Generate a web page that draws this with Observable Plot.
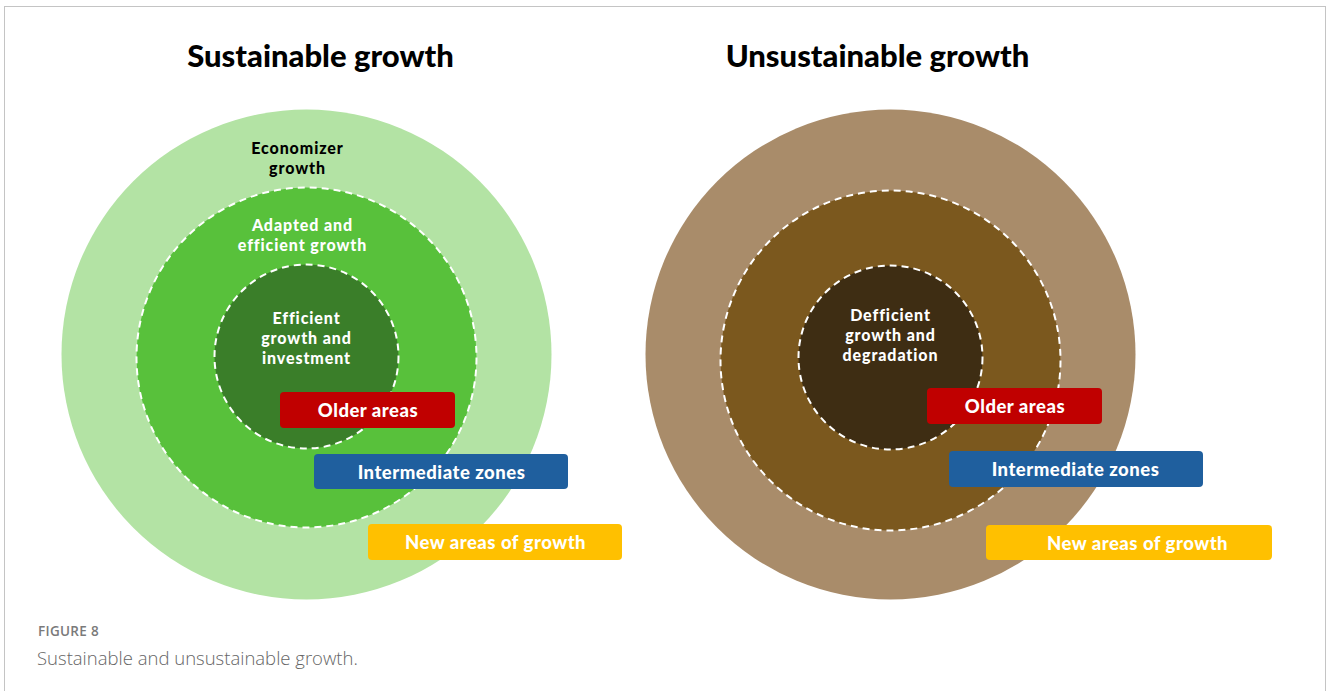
<!DOCTYPE html>
<html><head><meta charset="utf-8">
<script src="https://cdn.jsdelivr.net/npm/d3@7"></script>
<script src="https://cdn.jsdelivr.net/npm/@observablehq/plot@0.6"></script>
<style>
body{margin:0;background:#fff;}
#frame{position:absolute;left:4px;top:6px;width:1320px;height:700px;border:1px solid #c4c4c4;border-bottom:none;}
#chart{position:absolute;left:0;top:0;}
.cap1{position:absolute;left:38px;top:622px;font:600 13.5px "Open Sans";color:#7a7a7a;letter-spacing:0.3px;}
.cap2{position:absolute;left:37px;top:645px;font:300 18.5px "Open Sans";color:#666;}
</style></head><body>
<div id="frame"></div><div id="chart"></div>
<div class="cap1">FIGURE 8</div><div class="cap2">Sustainable and unsustainable growth.</div>
<script>
// ---- data ----
const panels = ["Sustainable growth", "Unsustainable growth"];
const ringLevels = ["outer", "middle", "inner"];
const sustainableRingLabels = ["Economizer\ngrowth", "Adapted and\nefficient growth", "Efficient\ngrowth and\ninvestment"];
const unsustainableRingLabels = ["", "", "Defficient\ngrowth and\ndegradation"];
const areaTypes = ["Older areas", "Intermediate zones", "New areas of growth"];

// ---- layout (diagram geometry) ----
const W = 1328, H = 615;
const titleX = [320, 877], titleY = 57;
const ringCenterX = [[306, 306, 306], [890, 890, 890]];
const ringCenterY = [[354, 357, 356], [354, 360, 357]];
const ringRadius = [245, 170, 92];
const labelX = [[297, 302, 306], [890, 890, 890]];
const labelY = [[157, 234, 337], [157, 234, 334]];
const boxX1 = [[280, 314, 368], [927, 949, 986]];
const boxX2 = [[455, 568, 622], [1102, 1203, 1272]];
const boxY1 = [[392, 454, 524], [388, 451, 525]];
const boxY2 = [[428, 489, 560], [424, 487, 560]];
const boxTextShift = [[0, 0, 0], [0, -1, 8]];

// ---- styles ----
const ringFill = {
  "Sustainable growth": ["#b3e3a4", "#58c13b", "#3a7e29"],
  "Unsustainable growth": ["#a98c6a", "#7b581e", "#3e2d13"]
};
const labelColor = ["#000", "#fff", "#fff"];
const areaFill = ["#c00000", "#1f5f9e", "#ffc000"];

const rings = [], labels = [], boxes = [], titles = [];
panels.forEach((p, pi) => {
  titles.push({text: p, x: titleX[pi], y: titleY});
  ringLevels.forEach((lv, li) => {
    rings.push({panel: p, level: lv, x: ringCenterX[pi][li], y: ringCenterY[pi][li], r: ringRadius[li],
      fill: ringFill[p][li], dashed: li > 0});
    const t = (pi === 0 ? sustainableRingLabels : unsustainableRingLabels)[li];
    if (t) labels.push({text: t, x: labelX[pi][li], y: labelY[pi][li], color: labelColor[li]});
  });
  areaTypes.forEach((a, ai) => {
    boxes.push({text: a, x1: boxX1[pi][ai], x2: boxX2[pi][ai], y1: boxY1[pi][ai], y2: boxY2[pi][ai],
      tx: (boxX1[pi][ai] + boxX2[pi][ai]) / 2 + boxTextShift[pi][ai], ty: (boxY1[pi][ai] + boxY2[pi][ai]) / 2 + 1,
      fill: areaFill[ai]});
  });
});

const font = "Lato, 'Open Sans', sans-serif";
const chart = Plot.plot({
  width: W, height: H,
  margin: 0,
  x: {type: "linear", domain: [0, W], range: [0, W], axis: null},
  y: {type: "linear", domain: [0, H], range: [0, H], axis: null},
  r: {type: "identity"},
  style: {background: "transparent", fontFamily: font},
  marks: [
    Plot.dot(rings.filter(d => !d.dashed), {x: "x", y: "y", r: "r", fill: "fill", stroke: null}),
    Plot.dot(rings.filter(d => d.dashed), {x: "x", y: "y", r: "r", fill: "fill", stroke: "#fff",
      strokeWidth: 2, strokeDasharray: "7,5"}),
    Plot.text(titles, {x: "x", y: "y", text: "text", fontSize: 31, fontWeight: 900, fill: "#000", fontFamily: font}),
    Plot.text(labels, {x: "x", y: "y", text: "text", fontSize: 16, fontWeight: 900, fill: "color",
      lineHeight: 1.25, fontFamily: font}),
    Plot.rect(boxes, {x1: "x1", x2: "x2", y1: "y1", y2: "y2", fill: "fill", rx: 4}),
    Plot.text(boxes, {x: "tx", y: "ty", text: "text", fontSize: 18.5, fontWeight: 900, fill: "#fff", fontFamily: font})
  ]
});
const textGroups = d3.select(chart).selectAll("g[aria-label='text']").nodes();
if (textGroups[1]) d3.select(textGroups[1]).style("letter-spacing", "0.9px");
if (textGroups[2]) d3.select(textGroups[2]).style("letter-spacing", "0.5px");
document.getElementById("chart").appendChild(chart);
</script>
</body></html>
